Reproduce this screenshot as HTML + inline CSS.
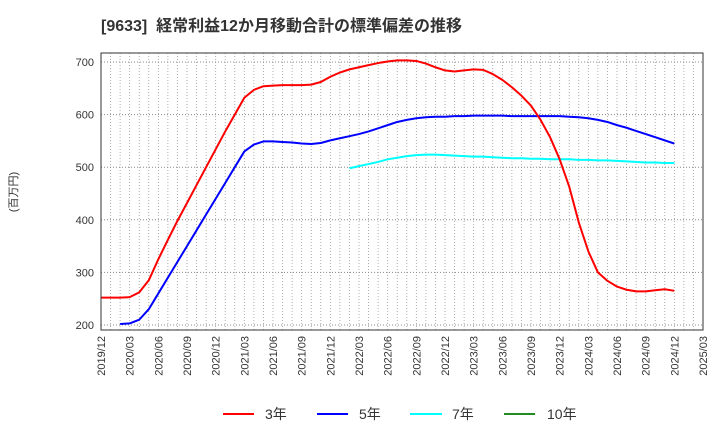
<!DOCTYPE html>
<html><head><meta charset="utf-8"><style>
body{margin:0;background:#fff;}
svg{display:block;font-family:"Liberation Sans","Noto Sans CJK JP",sans-serif;}
</style></head><body>
<svg id="chart" width="720" height="440" xmlns="http://www.w3.org/2000/svg">
<text x="101" y="31" font-size="16" font-weight="bold" fill="#333" style="white-space:pre">[9633]  経常利益12か月移動合計の標準偏差の推移</text>
<text transform="translate(17,192) rotate(-90)" font-size="11" fill="#333" text-anchor="middle">(百万円)</text>
<g id="grid"></g>
<g id="lines"></g>
<rect x="101" y="53" width="602" height="277" fill="none" stroke="#333" stroke-width="1"/>
<g id="legend" font-size="14" fill="#333">
<line x1="223" y1="414" x2="254" y2="414" stroke="#ff0000" stroke-width="2"/>
<text x="265" y="419">3年</text>
<line x1="317" y1="414" x2="348" y2="414" stroke="#0000ff" stroke-width="2"/>
<text x="359" y="419">5年</text>
<line x1="410" y1="414" x2="442" y2="414" stroke="#00ffff" stroke-width="2"/>
<text x="452" y="419">7年</text>
<line x1="504" y1="414" x2="535" y2="414" stroke="#228b22" stroke-width="2"/>
<text x="547" y="419">10年</text>
</g>
</svg>
<script>
const xTickLabels=["2019/12","2020/03","2020/06","2020/09","2020/12","2021/03","2021/06","2021/09","2021/12","2022/03","2022/06","2022/09","2022/12","2023/03","2023/06","2023/09","2023/12","2024/03","2024/06","2024/09","2024/12","2025/03"];
const yTicks=[200,300,400,500,600,700];
const red3y=[252,252,252,253,262,285,325,362,398,432,466,500,534,568,600,632,647,654,655,656,656,656,657,662,672,680,686,690,694,698,701,703,703,702,697,690,684,682,684,686,685,677,666,652,636,617,590,557,515,463,395,340,300,284,273,267,264,264,266,268,265];
const blue5yStart=2;
const blue5y=[202,203,210,230,260,290,320,350,380,410,440,470,500,530,543,549,549,548,547,545,544,546,551,555,559,563,568,574,580,586,590,593,595,596,596,597,597,598,598,598,598,597,597,597,597,597,597,596,595,593,590,586,580,575,569,563,557,551,545];
const cyan7yStart=26;
const cyan7y=[498,502,506,510,515,518,521,523,524,524,523,522,521,520,520,519,518,517,517,516,516,515,515,515,514,514,513,513,512,511,510,509,509,508,508];
const X0=101,X1=703,N=63;
const xs=i=>X0+(X1-X0)*i/N;
const ys=v=>325-(v-200)*(325-62)/500;
const NS="http://www.w3.org/2000/svg";
const grid=document.getElementById('grid');
for(let m=1;m<N;m++){
  const l=document.createElementNS(NS,'line');
  
  
  l.setAttribute('x1',xs(m));l.setAttribute('x2',xs(m));l.setAttribute('y1',53);l.setAttribute('y2',330);
  l.setAttribute('stroke','#999');l.setAttribute('stroke-dasharray','1,2');l.setAttribute('stroke-width','0.8');
  grid.appendChild(l);
}
yTicks.forEach(v=>{
  const l=document.createElementNS(NS,'line');
  
  
  l.setAttribute('x1',X0);l.setAttribute('x2',X1);l.setAttribute('y1',ys(v));l.setAttribute('y2',ys(v));
  l.setAttribute('stroke','#888');l.setAttribute('stroke-dasharray','1,2');
  grid.appendChild(l);
  const t=document.createElementNS(NS,'text');
  
  
  t.setAttribute('x',94);t.setAttribute('y',ys(v)+4);t.setAttribute('text-anchor','end');
  t.setAttribute('font-size','11');t.setAttribute('fill','#333');t.textContent=v;
  grid.appendChild(t);
});
xTickLabels.forEach((s,i)=>{
  const t=document.createElementNS(NS,'text');
  
  
  const x=xs(i*3)+4;
  t.setAttribute('transform','translate('+x+',336) rotate(-90)');
  t.setAttribute('text-anchor','end');t.setAttribute('font-size','11');t.setAttribute('fill','#333');
  t.textContent=s;grid.appendChild(t);
});
const lines=document.getElementById('lines');
function draw(arr,start,color,name){
  const p=document.createElementNS(NS,'polyline');
  
  
  p.setAttribute('points',arr.map((v,i)=>xs(start+i)+','+ys(v)).join(' '));
  p.setAttribute('fill','none');p.setAttribute('stroke',color);p.setAttribute('stroke-width','2');
  p.setAttribute('stroke-linejoin','round');
  lines.appendChild(p);
}
draw(cyan7y,cyan7yStart,'#00ffff','series-7y');
draw(blue5y,blue5yStart,'#0000ff','series-5y');
draw(red3y,0,'#ff0000','series-3y');
</script>
</body></html>
